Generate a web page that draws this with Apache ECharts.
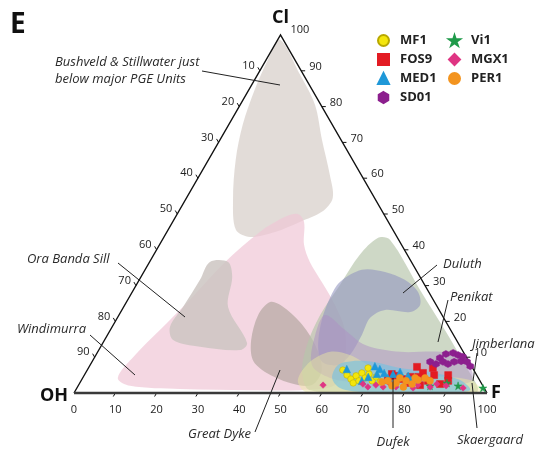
<!DOCTYPE html>
<html>
<head>
<meta charset="utf-8">
<script src="https://cdn.jsdelivr.net/npm/echarts@6/dist/echarts.min.js"></script>
<style>
  html, body { margin: 0; padding: 0; background: #fff; }
  #chart { width: 539px; height: 455px; }
</style>
</head>
<body>
<div id="chart"></div>
<script>
// Ternary F–Cl–OH plot of apatite compositions. Every point is [F, Cl] in %,
// OH is the remainder (100 - F - Cl).

// ---- samples ----
const MF1 = [[61.9,6.4],[63.6,5.0],[65.1,3.9],[66.2,2.8],[65.9,4.8],[67.3,3.4],[66.9,5.6],
             [68.4,4.2],[68.8,5.3],[70.5,3.4],[67.7,7.0],[70.9,4.5],[72.6,3.1]];
const FOS9 = [[79.4,7.3],[83.4,7.0],[81.7,5.6],[84.7,5.0],[88.1,5.0],[88.9,3.4],[84.0,3.4],[81.1,4.5],
              [79.2,4.5],[77.5,3.9],[75.3,4.8],[74.2,3.6],[79.5,2.8],[82.7,2.2],[87.4,2.5],[74.3,5.3],[84.9,-0.7]];
const MED1 = [[62.7,6.7],[69.1,7.5],[70.7,6.7],[72.3,5.6],[70.7,5.3],[69.0,4.5],[68.0,3.4],
              [73.9,4.2],[74.6,5.3],[76.0,5.9],[78.5,4.8],[80.0,3.6]];
const SD01 = [[81.9,8.7],[83.7,9.8],[84.6,10.9],[86.2,11.2],[87.7,10.6],[85.0,8.7],[86.5,8.1],
              [87.7,8.7],[89.3,8.9],[90.8,8.7],[92.2,7.5],[89.1,10.1],[83.6,8.1]];
const VI1 = [[98.3,1.4],[92.0,2.0],[93.8,-0.3],[88.9,2.8],[85.2,2.0]];
const MGX1 = [[59.2,2.2],[68.7,2.5],[70.3,1.7],[72.0,2.2],[74.0,1.7],[75.3,2.5],[77.1,1.7],
              [78.9,2.0],[81.4,1.4],[82.2,2.2],[85.4,1.7],[86.6,2.5],[89.1,2.0],[93.5,1.4]];
const PER1 = [[73.0,3.1],[74.3,3.4],[76.6,2.8],[76.8,4.2],[78.7,3.4],[80.6,2.5],[81.5,3.6],
              [82.9,4.2],[84.5,3.4],[76.0,2.0],[78.9,1.7],[80.5,4.2]];

// ---- intrusion fields, outlines as [F, Cl] ----
const BUSHVELD_STILLWATER = [[0.5,98.7],[10.3,88.9],[18.1,80.5],[24.7,70.7],[31.5,60.9],[35.4,54.5],
  [34.7,50.6],[30.8,47.8],[26.2,45.0],[20.8,43.6],[16.4,45.6],[11.5,54.0],[6.6,65.1],[3.4,74.9],[1.4,84.7],[0.4,93.1]];
const WINDIMURRA = [[8.5,4.2],[9.5,10.6],[12.0,17.6],[15.0,26.0],[18.3,36.6],[22.5,45.0],[26.5,49.2],
  [29.2,50.0],[31.8,47.8],[35.0,41.4],[38.8,36.6],[44.5,31.0],[50.9,24.6],[56.8,17.6],[61.0,9.2],
  [62.1,2.2],[54.3,0.8],[42.2,0.8],[25.1,1.1],[12.6,2.0]];
const ORA_BANDA = [[14.6,36.6],[19.0,36.6],[22.1,32.4],[25.3,24.0],[34.9,14.0],[34.2,12.0],
  [24.1,12.9],[16.6,14.8],[14.0,18.5],[14.4,24.0],[14.7,31.6]];
const GREAT_DYKE = [[34.8,25.4],[38.2,24.3],[44.8,19.8],[51.7,13.4],[56.8,6.4],[56.5,2.2],
  [50.9,2.8],[43.3,5.9],[38.7,9.2],[35.5,14.8],[33.7,21.8]];
const PENIKAT = [[51.9,43.3],[55.1,42.8],[69.4,28.8],[81.0,17.6],[90.8,7.8],[97.5,0.5],[90.9,0.3],
  [74.0,0.3],[56.7,0.8],[52.3,5.9],[49.7,13.4],[48.7,21.8],[49.3,30.2],[49.9,38.6]];
const DULUTH = [[48.9,31.0],[52.5,34.4],[58.4,33.8],[64.3,31.6],[69.2,28.2],[71.5,24.6],[70.1,22.6],
  [63.7,23.2],[61.2,21.0],[61.6,16.2],[61.5,10.6],[60.0,7.8],[55.7,8.7],[52.4,13.4],[49.8,20.4],[48.7,26.6]];
const JIMBERLANA = [[49.9,21.8],[56.8,17.6],[63.8,13.4],[73.2,11.5],[82.9,11.5],[89.3,9.8],[93.5,5.9],
  [94.4,3.1],[87.5,2.2],[77.8,2.2],[67.8,2.8],[59.9,4.2],[53.7,7.8],[50.3,16.2]];
const SKAERGAARD = [[52.4,3.6],[52.8,8.7],[56.3,11.5],[61.5,10.6],[69.4,7.0],[81.3,5.0],[94.1,3.6],
  [98.5,0.3],[83.8,0],[64.4,0],[55.9,0.3]];
const DUFEK = [[60.4,4.2],[60.0,7.8],[62.8,8.9],[67.9,8.7],[75.4,7.0],[83.3,5.9],[91.7,3.6],
  [95.5,0.8],[88.6,0],[78.9,0],[69.2,0.3],[63.7,1.4]];

// ---- axis tick values ----
const F_TICKS = [0, 10, 20, 30, 40, 50, 60, 70, 80, 90, 100];
const CL_TICKS = [10, 20, 30, 40, 50, 60, 70, 80, 90, 100];
const OH_TICKS = [10, 20, 30, 40, 50, 60, 70, 80, 90];

const SQ = Math.sqrt(3) / 2;
const toXY = p => [p[0] + p[1] / 2, p[1] * SQ];

// fields drawn back to front
const fields = [
  { pts: BUSHVELD_STILLWATER, fill: '#ddd6d1', op: 0.85 },
  { pts: WINDIMURRA, fill: '#f0c6d5', op: 0.7 },
  { pts: ORA_BANDA, fill: '#cdc6c2', op: 0.85 },
  { pts: GREAT_DYKE, fill: '#b5a7a2', op: 0.72 },
  { pts: PENIKAT, fill: '#b7c6ab', op: 0.68 },
  { pts: DULUTH, fill: '#9396c0', op: 0.6 },
  { pts: JIMBERLANA, fill: '#ad8fc4', op: 0.5 },
  { pts: SKAERGAARD, fill: '#eeeaa0', op: 0.45 },
  { pts: DUFEK, fill: '#74c2e2', op: 0.62 }
];

const HEX = 'path://M0,-10L8.66,-5L8.66,5L0,10L-8.66,5L-8.66,-5Z';
const STAR = 'path://M0,-10L2.245,-3.09L9.51,-3.09L3.63,1.18L5.88,8.09L0,3.82L-5.88,8.09L-3.63,1.18L-9.51,-3.09L-2.245,-3.09Z';

const font = 'Open Sans, Noto Sans, sans-serif';

function frameItem(params, api) {
  const c = p => api.coord(toXY(p));
  const A = c([0, 0]), B = c([100, 0]), C = c([0, 100]);
  const kids = [];
  const tickStyle = { stroke: '#111', lineWidth: 1 };
  const lab = (text, x, y, align, valign) => ({
    type: 'text',
    style: { text, x, y, textAlign: align, textVerticalAlign: valign,
             font: '11px ' + font, fill: '#222' }
  });
  // bottom axis: F
  F_TICKS.forEach(t => {
    const p = c([t, 0]);
    if (t > 0 && t < 100) kids.push({ type: 'line', shape: { x1: p[0], y1: p[1], x2: p[0] - 2, y2: p[1] + 3.5 }, style: tickStyle });
    kids.push(lab(String(t), p[0], p[1] + 17, 'center', 'middle'));
  });
  // right axis: Cl
  CL_TICKS.forEach(t => {
    const p = c([100 - t, t]);
    if (t < 100) kids.push({ type: 'line', shape: { x1: p[0], y1: p[1], x2: p[0] + 4, y2: p[1] }, style: tickStyle });
    kids.push(lab(String(t), p[0] + (t === 100 ? 10 : 8), p[1] - (t === 100 ? 5 : 4), 'left', 'middle'));
  });
  // left axis: OH
  OH_TICKS.forEach(t => {
    const p = c([0, 100 - t]);
    kids.push({ type: 'line', shape: { x1: p[0], y1: p[1], x2: p[0] - 2, y2: p[1] - 3.5 }, style: tickStyle });
    kids.push(lab(String(t), p[0] - 5, p[1] - 5, 'right', 'middle'));
  });
  // triangle
  kids.push({ type: 'polyline', shape: { points: [A, C, B] }, style: { stroke: '#111', lineWidth: 1.4, fill: null } });
  kids.push({ type: 'line', shape: { x1: A[0], y1: A[1], x2: B[0], y2: B[1] }, style: { stroke: '#3a3a3a', lineWidth: 2.4 } });
  // apex names
  const vfont = 'bold 18px ' + font;
  kids.push({ type: 'text', style: { text: 'OH', x: A[0] - 6, y: A[1] + 3, textAlign: 'right', textVerticalAlign: 'middle', font: vfont, fill: '#111' } });
  kids.push({ type: 'text', style: { text: 'F', x: B[0] + 4, y: B[1], textAlign: 'left', textVerticalAlign: 'middle', font: vfont, fill: '#111' } });
  kids.push({ type: 'text', style: { text: 'Cl', x: C[0], y: C[1] - 17, textAlign: 'center', textVerticalAlign: 'middle', font: vfont, fill: '#111' } });
  return { type: 'group', children: kids };
}

function fieldItem(params, api) {
  const f = fields[params.dataIndex];
  const pts = f.pts.map(p => api.coord(toXY(p)));
  return { type: 'polygon', shape: { points: pts, smooth: 0.32 },
           style: { fill: f.fill, opacity: f.op } };
}

const sampleSeries = [
  { name: 'MF1', data: MF1, symbol: 'circle', size: 6.5, color: '#f4e60c', border: '#b8a800' },
  { name: 'FOS9', data: FOS9, symbol: 'rect', size: 7, color: '#e31b23', border: '#e31b23' },
  { name: 'MED1', data: MED1, symbol: 'triangle', size: 7.5, color: '#1f98d8', border: '#1f98d8' },
  { name: 'SD01', data: SD01, symbol: HEX, size: 7, color: '#8c1f8e', border: '#8c1f8e' },
  { name: 'Vi1', data: VI1, symbol: STAR, size: 8, color: '#1f9a4a', border: '#1f9a4a' },
  { name: 'MGX1', data: MGX1, symbol: 'diamond', size: 6.5, color: '#df3583', border: '#df3583' },
  { name: 'PER1', data: PER1, symbol: 'circle', size: 7, color: '#f3941f', border: '#f3941f' }
].map(s => ({
  type: 'scatter', name: s.name, z: 5,
  data: s.data.map(toXY),
  symbol: s.symbol, symbolSize: s.size,
  itemStyle: { color: s.color, borderColor: s.border, borderWidth: 0.5, opacity: 1 }
}));

// field names and leader lines
const labelFont = 'italic 13px ' + font;
const notes = [
  { t: 'Bushveld & Stillwater just', x: 55, y: 62, a: 'left' },
  { t: 'below major PGE Units', x: 55, y: 79, a: 'left' },
  { t: 'Ora Banda Sill', x: 27, y: 259, a: 'left' },
  { t: 'Windimurra', x: 17, y: 329, a: 'left' },
  { t: 'Great Dyke', x: 251, y: 434, a: 'right' },
  { t: 'Dufek', x: 393, y: 442, a: 'center' },
  { t: 'Skaergaard', x: 457, y: 440, a: 'left' },
  { t: 'Duluth', x: 443, y: 264, a: 'left' },
  { t: 'Penikat', x: 450, y: 297, a: 'left' },
  { t: 'Jimberlana', x: 472, y: 344, a: 'left' }
];
const leaders = [
  [202, 71, 280, 85], [118, 263, 185, 317], [90, 335, 135, 375], [255, 432, 280, 370],
  [393, 428, 393, 378], [477, 428, 472, 383], [437, 265, 403, 293], [448, 300, 438, 342],
  [477, 353, 473, 381]
];

const graphic = [
  { type: 'text', left: 10, top: 11, style: { text: 'E', font: 'bold 28px ' + font, fill: '#111' } }
].concat(notes.map(n => ({
  type: 'text', x: n.x, y: n.y, z: 20,
  style: { text: n.t, textAlign: n.a, textVerticalAlign: 'middle', font: labelFont, fill: '#2a2a2a' }
}))).concat(leaders.map(l => ({
  type: 'line', z: 20, shape: { x1: l[0], y1: l[1], x2: l[2], y2: l[3] },
  style: { stroke: '#222', lineWidth: 1 }
})));

const chart = echarts.init(document.getElementById('chart'), null, { renderer: 'canvas' });
chart.setOption({
  animation: false,
  backgroundColor: '#fff',
  grid: { left: 74, right: 52, top: 35, bottom: 62 },
  xAxis: { type: 'value', min: 0, max: 100, show: false },
  yAxis: { type: 'value', min: 0, max: 100 * SQ, show: false },
  legend: {
    orient: 'vertical', left: 377, top: 34, height: 80, padding: 0,
    itemWidth: 11, itemHeight: 11, itemGap: 6,
    textStyle: { fontFamily: font, fontWeight: 'bold', fontSize: 13, lineHeight: 13,
                 color: '#222', width: 42, overflow: 'none', padding: [0, 0, 0, 6] },
    data: ['MF1', 'FOS9', 'MED1', 'SD01', 'Vi1', 'MGX1', 'PER1']
  },
  graphic,
  series: [
    { type: 'custom', silent: true, z: 1, data: fields.map((f, i) => [i, 0]),
      renderItem: fieldItem, clip: false },
    { type: 'custom', silent: true, z: 3, data: [[0, 0]], renderItem: frameItem, clip: false }
  ].concat(sampleSeries)
});
</script>
</body>
</html>
